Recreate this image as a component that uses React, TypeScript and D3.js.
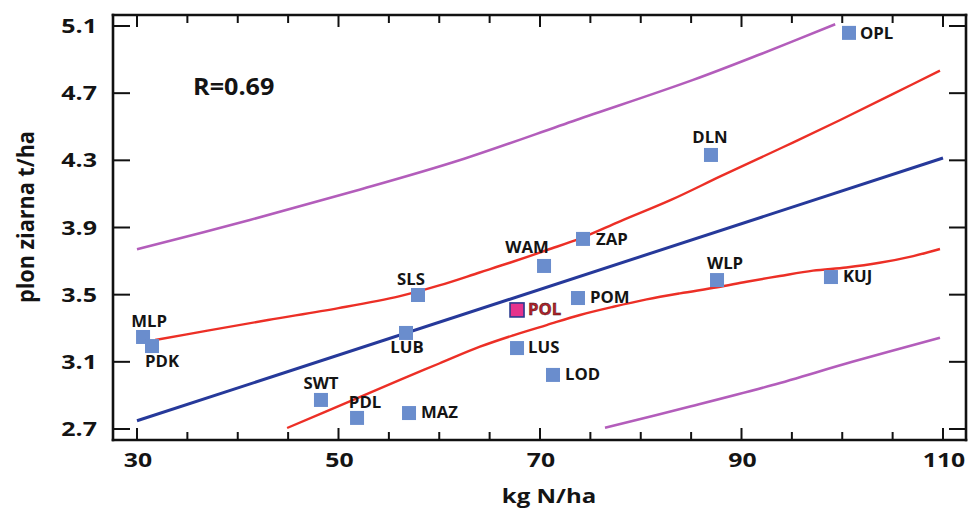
import React from 'react';
import * as d3 from 'd3';

// ---- data ----
const regions = ['OPL', 'DLN', 'ZAP', 'WAM', 'WLP', 'KUJ', 'POM', 'POL', 'SLS', 'LUB', 'MLP', 'PDK', 'LUS', 'LOD', 'SWT', 'PDL', 'MAZ'];
const nitrogen = [100.67, 86.97, 74.27, 70.4, 87.57, 98.88, 73.77, 67.72, 57.89, 56.7, 30.6, 31.49, 67.72, 71.29, 48.26, 51.84, 57.0];
const grainYield = [5.059, 4.332, 3.832, 3.671, 3.587, 3.605, 3.48, 3.409, 3.498, 3.272, 3.248, 3.194, 3.182, 3.022, 2.873, 2.766, 2.795];

const regressionX = [30, 110];
const regressionY = [2.749, 4.314];

const upperConfX = [31.8, 37, 43, 50, 56, 60, 64, 67, 70.7, 74, 78, 83, 88, 94, 99.8, 105, 109.7];
const upperConfY = [3.23, 3.286, 3.349, 3.42, 3.49, 3.555, 3.632, 3.69, 3.766, 3.835, 3.938, 4.064, 4.207, 4.375, 4.54, 4.694, 4.834];

const lowerConfX = [44.9, 51, 56.1, 60, 64.04, 67.35, 70.66, 73.97, 77.28, 80.59, 83.9, 87.6, 90.5, 93.8, 97.1, 100.4, 103.7, 107.05, 109.7];
const lowerConfY = [2.706, 2.862, 2.993, 3.09, 3.19, 3.258, 3.319, 3.379, 3.428, 3.472, 3.508, 3.544, 3.577, 3.611, 3.643, 3.662, 3.69, 3.73, 3.772];

const upperPredX = [30, 41.2, 51.8, 62, 73.6, 85.2, 92, 99.3];
const upperPredY = [3.77, 3.945, 4.12, 4.3, 4.54, 4.779, 4.935, 5.11];

const lowerPredX = [76.45, 85, 93, 101, 109.7];
const lowerPredY = [2.708, 2.835, 2.96, 3.1, 3.244];

const yTicks = [2.7, 3.1, 3.5, 3.9, 4.3, 4.7, 5.1];
const xMajorTicks = [30, 50, 70, 90, 110];
const xMinorTicks = [35, 40, 45, 55, 60, 65, 75, 80, 85, 95, 100, 105];

const rText = 'R=0.69';
const xTitle = 'kg N/ha';
const yTitle = 'plon ziarna t/ha';
const highlight = 'POL';

// label placement (styling): dx, dy from square centre, anchor
const labelPlace: Record<string, [number, number, string]> = {
  OPL: [11, 6, 'start'],
  DLN: [-1, -12, 'middle'],
  ZAP: [13, 6, 'start'],
  WAM: [-17, -13, 'middle'],
  WLP: [8, -11, 'middle'],
  KUJ: [12, 5, 'start'],
  POM: [12, 5, 'start'],
  POL: [11, 5, 'start'],
  SLS: [-7, -10, 'middle'],
  LUB: [1, 20, 'middle'],
  MLP: [6, -10, 'middle'],
  PDK: [10, 21, 'middle'],
  LUS: [11, 5, 'start'],
  LOD: [12, 5, 'start'],
  SWT: [0, -11, 'middle'],
  PDL: [8, -10, 'middle'],
  MAZ: [12, 5, 'start'],
};

const W = 968;
const H = 512;
const frame = { left: 113, right: 966, top: 15, bottom: 440 };
const FONT = "'Open Sans', sans-serif";

const x = d3.scaleLinear().domain([30, 110]).range([137, 943]);
const y = d3.scaleLinear().domain([2.7, 5.1]).range([429, 26]);

function Txt(props: {
  x: number; y: number; size: number; sx?: number; sy?: number; anchor?: string;
  fill?: string; rotate?: number; children: React.ReactNode; stroke?: string;
}) {
  const { sx = 1, sy = 1, anchor = 'start', fill = '#141414', rotate = 0 } = props;
  return (
    <text
      transform={`translate(${props.x},${props.y}) rotate(${rotate}) scale(${sx},${sy})`}
      textAnchor={anchor as any}
      fontFamily={FONT}
      fontWeight={700}
      fontSize={props.size}
      fill={fill}
      stroke={props.stroke}
      strokeWidth={props.stroke ? 0.4 : undefined}
    >
      {props.children}
    </text>
  );
}

function makePath(xs: number[], ys: number[]) {
  const pts = xs.map((v, i) => [v, ys[i]] as [number, number]);
  return d3
    .line<[number, number]>()
    .x((d) => x(d[0]))
    .y((d) => y(d[1]))
    .curve(d3.curveCatmullRom.alpha(0.5))(pts) as string;
}

export default function App() {
  const sq = 14;
  return (
    <svg
      width={W}
      height={H}
      viewBox={`0 0 ${W} ${H}`}
      style={{ position: 'absolute', left: 0, top: 0, background: '#fff' }}
    >
      <rect x={0} y={0} width={W} height={H} fill="#fff" />

      {/* curves */}
      <path d={makePath(upperPredX, upperPredY)} fill="none" stroke="#b35dbb" strokeWidth={2.6} />
      <path d={makePath(lowerPredX, lowerPredY)} fill="none" stroke="#b35dbb" strokeWidth={2.6} />
      <path d={makePath(upperConfX, upperConfY)} fill="none" stroke="#ec2f26" strokeWidth={2.4} />
      <path d={makePath(lowerConfX, lowerConfY)} fill="none" stroke="#ec2f26" strokeWidth={2.4} />
      <path d={makePath(regressionX, regressionY)} fill="none" stroke="#26399a" strokeWidth={3} />

      {/* points */}
      {regions.map((r, i) => {
        const cx = x(nitrogen[i]);
        const cy = y(grainYield[i]);
        const isH = r === highlight;
        return (
          <rect
            key={r}
            x={cx - sq / 2}
            y={cy - sq / 2}
            width={sq}
            height={sq}
            fill={isH ? '#e6338c' : '#6a8dcd'}
            stroke={isH ? '#2b3a8f' : 'none'}
            strokeWidth={isH ? 1.6 : 0}
          />
        );
      })}
      {regions.map((r, i) => {
        const cx = x(nitrogen[i]);
        const cy = y(grainYield[i]);
        const [dx, dy, anchor] = labelPlace[r];
        const isH = r === highlight;
        return (
          <Txt
            key={'l' + r}
            x={cx + dx}
            y={cy + dy}
            size={15.5}
            sx={1.08}
            anchor={anchor}
            fill={isH ? '#b3232b' : '#141414'}
            stroke={isH ? '#3a1010' : undefined}
          >
            {r}
          </Txt>
        );
      })}

      {/* frame */}
      <g stroke="#111" strokeWidth={2.6} fill="none" strokeLinecap="square">
        <line x1={frame.left} y1={frame.top} x2={frame.right} y2={frame.top} />
        <line x1={frame.left} y1={frame.bottom} x2={frame.right} y2={frame.bottom} />
        <line x1={frame.left} y1={frame.top} x2={frame.left} y2={frame.bottom} />
        <line x1={frame.right} y1={frame.top} x2={frame.right} y2={frame.bottom} />
      </g>

      {/* ticks */}
      <g stroke="#111" strokeWidth={2}>
        {xMajorTicks.map((t) => (
          <g key={'xM' + t}>
            <line x1={x(t)} x2={x(t)} y1={frame.bottom} y2={frame.bottom - 12} />
            <line x1={x(t)} x2={x(t)} y1={frame.top} y2={frame.top + 12} />
          </g>
        ))}
        {xMinorTicks.map((t) => (
          <g key={'xm' + t}>
            <line x1={x(t)} x2={x(t)} y1={frame.bottom} y2={frame.bottom - 8} />
            <line x1={x(t)} x2={x(t)} y1={frame.top} y2={frame.top + 8} />
          </g>
        ))}
        {yTicks.map((t) => (
          <g key={'y' + t}>
            <line x1={frame.left} x2={frame.left + 17} y1={y(t)} y2={y(t)} />
            <line x1={frame.right} x2={frame.right - 17} y1={y(t)} y2={y(t)} />
          </g>
        ))}
      </g>

      {/* tick labels */}
      {yTicks.map((t) => (
        <Txt key={'yl' + t} x={97} y={y(t) + 7} size={20} sx={1.25} anchor="end">
          {d3.format('.1f')(t)}
        </Txt>
      ))}
      {xMajorTicks.map((t) => (
        <Txt key={'xl' + t} x={x(t) + 1} y={467} size={20} sx={1.24} anchor="middle">
          {String(t)}
        </Txt>
      ))}

      {/* titles */}
      <Txt x={549} y={503} size={20} sx={1.2} anchor="middle">
        {xTitle}
      </Txt>
      <Txt x={34} y={217} size={20} sx={1.08} sy={1.12} anchor="middle" rotate={-90}>
        {yTitle}
      </Txt>
      <Txt x={193} y={95} size={22.5} sx={1.12}>
        {rText}
      </Txt>
    </svg>
  );
}
